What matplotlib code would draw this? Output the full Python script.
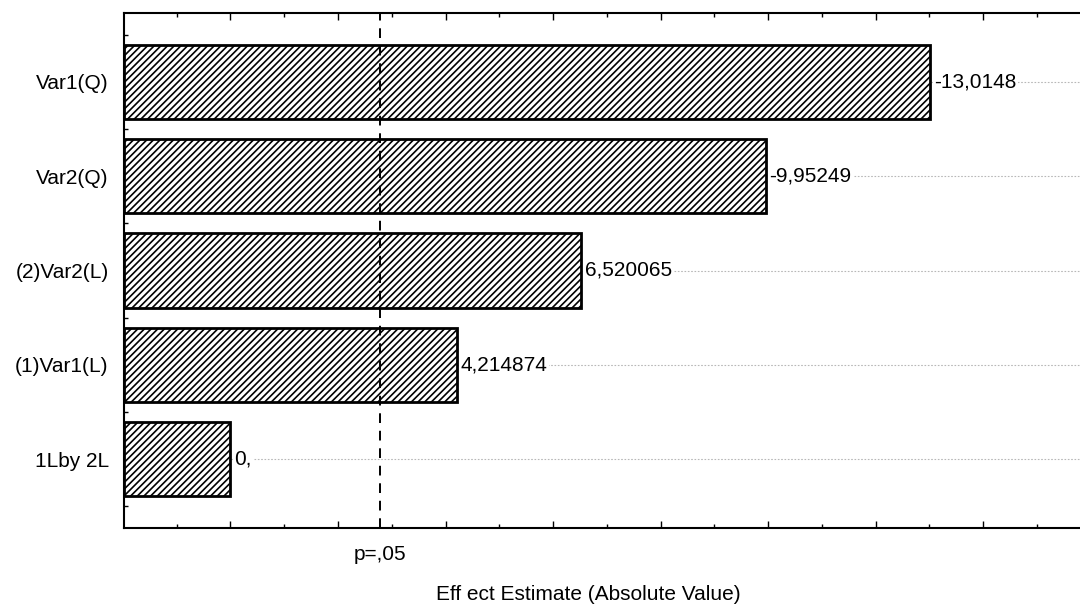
import numpy as np
import matplotlib.pyplot as plt
from matplotlib.transforms import blended_transform_factory

plt.rcParams['font.family'] = ['Liberation Sans', 'DejaVu Sans']
plt.rcParams['hatch.linewidth'] = 1.2

effects = ['Var1(Q)', 'Var2(Q)', '(2)Var2(L)', '(1)Var1(L)', '1Lby 2L']
estimates = [-13.0148, -9.95249, 6.520065, 4.214874, 0.0]
value_labels = ['-13,0148', '-9,95249', '6,520065', '4,214874', '0,']
p_crit = 2.776  # t critical value, p=.05

xmin, xmax = -1.98, 15.8
fs = 15

fig = plt.figure(figsize=(10.8, 6.06), dpi=100)
ax = fig.add_axes([124/1080, 78/606, 956/1080, 515/606])

y = np.arange(len(effects))
absval = np.abs(estimates)

# dotted guide lines behind the bars
for yi in y:
    ax.axhline(yi, color='#b8b8b8', lw=0.8, ls=(0, (1.5, 1.5)), zorder=0)

ax.barh(y, absval - xmin, left=xmin, height=0.79, color='white',
        edgecolor='black', linewidth=2, hatch='/////', zorder=2)

for yi, v, lab in zip(y, absval, value_labels):
    ax.text(v + 0.07, yi, lab, va='center', ha='left', fontsize=fs,
            bbox=dict(facecolor='white', edgecolor='none', pad=1), zorder=3)

ax.axvline(p_crit, color='black', lw=1.4, ls=(0, (5, 4)), zorder=4)

ax.set_xlim(xmin, xmax)
ax.set_ylim(len(effects) - 0.27, -0.73)

ax.set_yticks(y)
ax.set_yticklabels(effects, fontsize=fs)
ax.set_yticks(np.arange(len(effects) + 1) - 0.5, minor=True)
ax.tick_params(axis='y', which='major', length=0, pad=11)
ax.tick_params(axis='y', which='minor', direction='in', length=3, width=1, right=False)

ax.set_xticks(np.arange(0, 16, 2))
ax.set_xticks(np.arange(-1, 16, 2), minor=True)
ax.set_xticklabels([])
ax.tick_params(axis='x', which='major', direction='in', length=5, width=1, top=True)
ax.tick_params(axis='x', which='minor', direction='in', length=3, width=1, top=True)

for s in ['left', 'bottom', 'top']:
    ax.spines[s].set_linewidth(1.5)
ax.spines['right'].set_visible(False)

trans = blended_transform_factory(ax.transData, fig.transFigure)
ax.text(p_crit, 1 - 555/606, 'p=,05', ha='center', va='center', fontsize=fs,
        transform=trans)
fig.text(588/1080, 1 - 594/606, 'Eff ect Estimate (Absolute Value)', ha='center',
         va='center', fontsize=fs)

fig.savefig('out.png', dpi=100)
